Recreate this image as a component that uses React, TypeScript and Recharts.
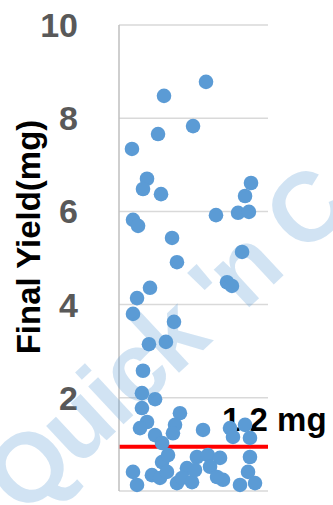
import React from 'react';
import {
  ScatterChart,
  Scatter,
  XAxis,
  YAxis,
  CartesianGrid,
  ReferenceLine,
} from 'recharts';

// jitter position of each sample (no meaning, just spread)
const jitterX = [
  0.87, 2.62, 3.02, 4.97, 5.84, 1.88, 1.61, 2.82, 8.86, 8.46,
  7.99, 8.72, 6.51, 0.94, 1.28, 3.56, 3.89, 8.26, 7.25, 7.58,
  2.08, 1.21, 0.94, 3.69, 2.01, 3.15, 1.61, 1.54, 2.42, 1.54,
  4.09, 1.88, 3.76, 1.41, 2.42, 3.62, 2.89, 5.64, 7.45, 8.46,
  7.65, 8.79, 2.89, 3.29, 0.94, 2.21, 2.75, 3.22, 1.21, 3.89,
  4.56, 4.23, 4.9, 5.23, 5.97, 6.78, 8.79, 5.1, 6.11, 6.98,
  8.12, 8.66, 9.13, 6.58,
];

// final yield per sample (mg)
const finalYield = [
  7.34, 7.66, 8.48, 7.83, 8.78, 6.7, 6.48, 6.37, 6.61, 6.33,
  5.97, 5.99, 5.92, 5.82, 5.69, 5.43, 4.91, 5.13, 4.48, 4.4,
  4.36, 4.14, 3.8, 3.63, 3.15, 3.2, 2.58, 2.1, 1.97, 1.78,
  1.67, 1.48, 1.42, 1.35, 1.2, 1.24, 1.03, 1.31, 1.35, 1.42,
  1.16, 1.14, 0.62, 0.77, 0.41, 0.34, 0.28, 0.41, 0.13, 0.17,
  0.49, 0.28, 0.19, 0.73, 0.77, 0.71, 0.73, 0.45, 0.52, 0.24,
  0.13, 0.41, 0.17, 0.3,
];

const yTicks = [0, 2, 4, 6, 8, 10];
const cutoff = 0.95;
const cutoffLabel = '1.2 mg';

const data = jitterX.map((x, i) => ({ x, y: finalYield[i] }));

const FONT = '"Liberation Sans", Arial, sans-serif';

function Dot(props: { cx?: number; cy?: number }) {
  if (props.cx == null || props.cy == null) return null;
  return <circle cx={props.cx} cy={props.cy} r={7.3} fill="#5b9bd5" />;
}

export default function App() {
  return (
    <div style={{ position: 'absolute', left: 0, top: 0, width: 333, height: 505, background: '#fff', overflow: 'hidden' }}>
      <ScatterChart
        width={333}
        height={505}
        margin={{ top: 25, right: 65, bottom: 14, left: 0 }}
      >
        <CartesianGrid vertical={false} stroke="#d9d9d9" strokeWidth={1.5} />
        <XAxis type="number" dataKey="x" domain={[0, 10]} hide />
        <YAxis
          type="number"
          dataKey="y"
          domain={[0, 10]}
          ticks={yTicks}
          width={119}
          tickLine={false}
          tickSize={0}
          tickMargin={41}
          axisLine={{ stroke: '#bfbfbf', strokeWidth: 1.5 }}
          tick={{ fontSize: 34, fontWeight: 700, fill: '#595959', fontFamily: FONT }}
          label={{
            content: () => (
              <text
                x={28}
                y={237}
                transform="rotate(-90 28 237)"
                textAnchor="middle"
                dominantBaseline="central"
                fontSize={33}
                fontWeight={700}
                fontFamily={FONT}
                fill="#000"
              >
                Final Yield(mg)
              </text>
            ),
          }}
        />
        <Scatter data={data} shape={<Dot />} isAnimationActive={false} />
        <ReferenceLine
          y={cutoff}
          stroke="#ff0000"
          strokeWidth={4}
          label={{
            content: (p: any) => {
              const vb = p.viewBox || {};
              return (
                <text
                  x={vb.x + vb.width - 46}
                  y={vb.y - 16}
                  fontSize={33}
                  fontWeight={700}
                  fontFamily={FONT}
                  fill="#000"
                >
                  {cutoffLabel}
                </text>
              );
            },
          }}
        />
      </ScatterChart>
      {/* watermark */}
      <div
        style={{
          position: 'absolute',
          left: -38,
          top: 452,
          transform: 'rotate(-43deg)',
          transformOrigin: '0 0',
          fontFamily: FONT,
          fontWeight: 700,
          fontSize: 98,
          letterSpacing: -3,
          lineHeight: 1.15,
          color: 'rgba(91,155,213,0.28)',
          whiteSpace: 'nowrap',
          pointerEvents: 'none',
        }}
      >
        Quick 'n C
      </div>
    </div>
  );
}
